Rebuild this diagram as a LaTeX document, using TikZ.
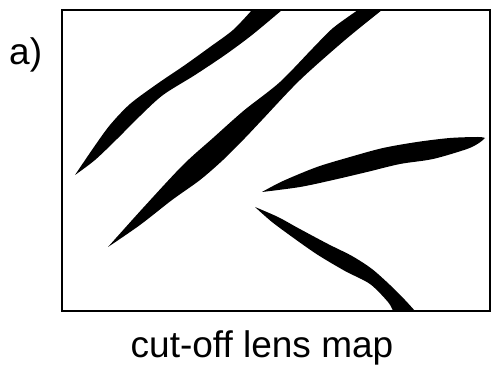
\documentclass[tikz,border=0pt]{standalone}
\usepackage{fontspec}
\setmainfont{Liberation Sans}
\begin{document}
\begin{tikzpicture}[x=1pt,y=-1pt,
  lbl/.style={font=\fontsize{37}{40}\selectfont, inner sep=0pt},
  streak/.style={fill=black}]
\useasboundingbox (0,0) rectangle (493,371);
% streak 1
\fill[streak] plot[smooth] coordinates {(75,175) (94,147) (110,125) (130,104) (157,84) (185,65) (210,47) (233,30) (252,10)}
  -- (282,10) -- plot[smooth] coordinates {(282,10) (252,35) (225,55) (195,75) (163,95) (140,116) (117,139) (95,160) (75,175)} -- cycle;
% streak 2
\fill[streak] plot[smooth] coordinates {(108,247) (143,208) (183,165) (213,138) (233,120) (247,108) (280,82) (313,48) (333,28) (358,10)}
  -- (382,10) -- plot[smooth] coordinates {(382,10) (345,40) (300,80) (262,120) (245,138) (223,160) (200,180) (172,200) (140,225) (108,247)} -- cycle;
% streak 3
\fill[streak] plot[smooth] coordinates {(262,192) (283,181) (317,167) (350,157) (383,148) (417,142) (450,138) (478,137) (485,138)}
  -- plot[smooth] coordinates {(485,138) (479,143) (467,149) (433,159) (400,164) (367,172) (333,180) (300,187) (262,192)} -- cycle;
% streak 4
\fill[streak] plot[smooth] coordinates {(255,207) (278,217) (298,228) (328,244) (352,256) (372,269) (390,285) (405,300) (415,311)}
  -- (393,311) -- plot[smooth] coordinates {(393,311) (388,302) (370,284) (345,271) (318,255) (295,239) (272,222) (255,207)} -- cycle;
% frame
\draw[line width=2pt] (62,10) rectangle (490,311);
\node[lbl, anchor=base west] (lab) at (9,65) {a)};
\node[lbl, anchor=base] (cap) at (262,358) {cut-off lens map};
\end{tikzpicture}
\end{document}
